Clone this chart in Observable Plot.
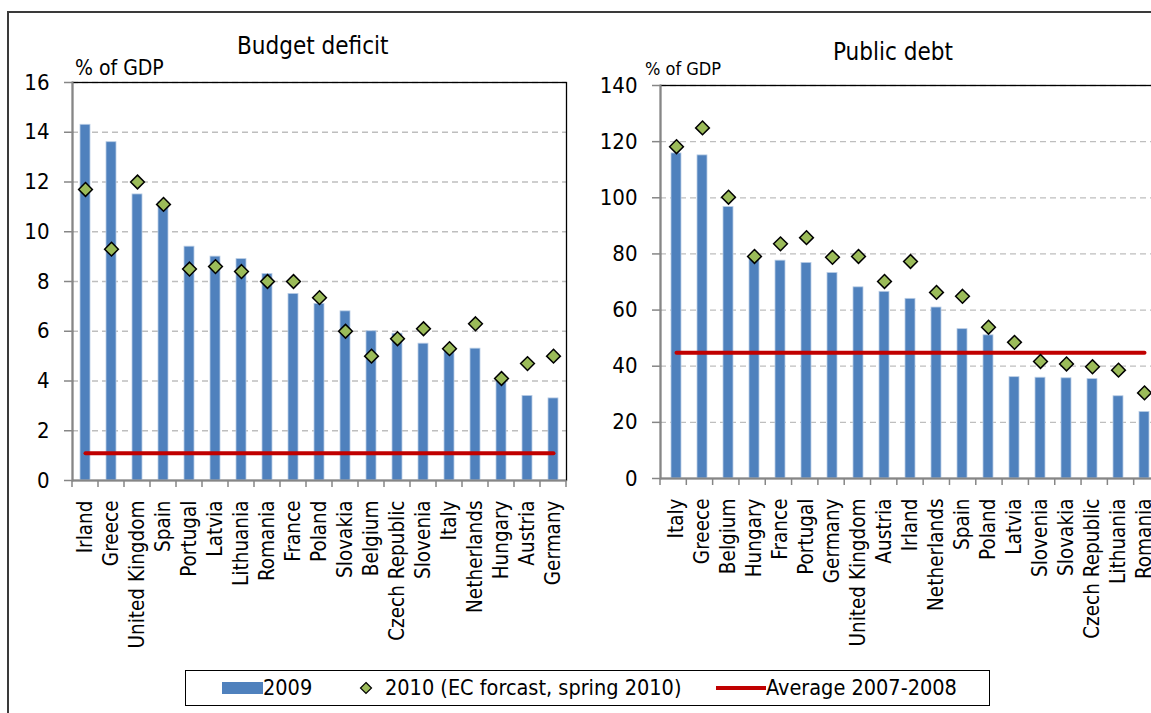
<!DOCTYPE html>
<html><head><meta charset="utf-8">
<script src="https://cdn.jsdelivr.net/npm/d3@7"></script>
<script src="https://cdn.jsdelivr.net/npm/@observablehq/plot@0.6"></script>
<style>
html,body{margin:0;padding:0;background:#fff;overflow:hidden}
#wrap{position:relative;width:1151px;height:713px;overflow:hidden;background:#fff;font-family:"DejaVu Sans Condensed","DejaVu Sans",sans-serif;color:#000}
.frame{position:absolute;left:7px;top:11px;width:1400px;height:900px;border-left:2px solid #3a3a3a;border-top:2px solid #3a3a3a}
.abs{position:absolute;white-space:nowrap;line-height:1}
.chart{position:absolute;top:0;width:600px;height:660px}
.chart svg{max-width:none !important}
#legend{position:absolute;left:185px;top:670px;width:805px;height:36px;border:1.5px solid #000;box-sizing:border-box;font-size:21.5px}
#legend .it{position:absolute;top:0;height:33px;display:flex;align-items:center}
</style>
</head><body>
<div id="wrap">
  <div class="frame"></div>
  <div class="abs" id="t1" style="left:237px;top:34px;font-size:24px">Budget deficit</div>
  <div class="abs" id="u1" style="left:75px;top:58px;font-size:21px">% of GDP</div>
  <div class="abs" id="t2" style="left:833px;top:40px;font-size:24px">Public debt</div>
  <div class="abs" id="u2" style="left:645px;top:60px;font-size:18px">% of GDP</div>
  <div class="chart" id="c1" style="left:0px"></div>
  <div class="chart" id="c2" style="left:580px"></div>
  <div id="legend"></div>
</div>
<script>
const FONT = '"DejaVu Sans Condensed","DejaVu Sans",sans-serif';

// ---- Budget deficit (% of GDP) ----
const deficitCountries = ["Irland","Greece","United Kingdom","Spain","Portugal","Latvia","Lithuania","Romania","France","Poland","Slovakia","Belgium","Czech Republic","Slovenia","Italy","Netherlands","Hungary","Austria","Germany"];
const deficit2009 = [14.3,13.6,11.5,11.2,9.4,9.0,8.9,8.3,7.5,7.1,6.8,6.0,5.9,5.5,5.3,5.3,4.0,3.4,3.3];
const deficit2010 = [11.7,9.3,12.0,11.1,8.5,8.6,8.4,8.0,8.0,7.35,6.0,5.0,5.7,6.1,5.3,6.3,4.1,4.7,5.0];
const deficitAvg = 1.1;
const deficitTicks = [0,2,4,6,8,10,12,14,16];

// ---- Public debt (% of GDP) ----
const debtCountries = ["Italy","Greece","Belgium","Hungary","France","Portugal","Germany","United Kingdom","Austria","Irland","Netherlands","Spain","Poland","Latvia","Slovenia","Slovakia","Czech Republic","Lithuania","Romania"];
const debt2009 = [115.8,115.1,96.7,78.3,77.6,76.8,73.2,68.1,66.5,64.0,60.9,53.2,51.0,36.1,35.9,35.7,35.4,29.3,23.7];
const debt2010 = [118.2,124.9,100.2,79.1,83.6,85.8,78.8,79.1,70.2,77.3,66.3,64.9,53.9,48.5,41.7,40.8,39.8,38.6,30.5];
const debtAvg = 44.8;
const debtTicks = [0,20,40,60,80,100,120,140];

const legendItems = ["2009","2010 (EC forcast, spring 2010)","Average 2007-2008"];

function panel(el, cats, v09, v10, avg, ticks, cfg) {
  const rows = cats.map((c, i) => ({c, v09: v09[i], v10: v10[i]}));
  const p = Plot.plot({
    width: cfg.width, height: cfg.height,
    marginLeft: cfg.mL, marginRight: cfg.mR, marginTop: cfg.mT, marginBottom: cfg.mB,
    style: {fontFamily: FONT, fontSize: "20px", color: "#000", background: "transparent", overflow: "visible", maxWidth: "none"},
    x: {domain: cats, paddingInner: 0.62, paddingOuter: 0.31, axis: null},
    y: {domain: [0, ticks[ticks.length - 1]], axis: null},
    marks: [
      Plot.ruleY(ticks.filter(t => t > 0), {stroke: "#BEBEBE", strokeDasharray: "6,4", strokeWidth: 1.3}),
      Plot.frame({stroke: "#000", strokeWidth: 1.3}),
      Plot.barY(rows, {x: "c", y: "v09", fill: "#4F81BD", stroke: "#B9CDE5", strokeWidth: 0.8}),
      Plot.lineY(cats, {x: d => d, y: () => avg, stroke: "#C00000", strokeWidth: 4}),
      Plot.dot(rows, {x: "c", y: "v10", symbol: "diamond2", r: 6.2, fill: "#9BBB59", stroke: "#000", strokeWidth: 1.5}),
      Plot.ruleY([0], {stroke: "#868686", strokeWidth: 2}),
      Plot.frame({anchor: "left", stroke: "#868686", strokeWidth: 2}),
      Plot.axisY({ticks, tickSize: 8, tickPadding: 15, fontSize: cfg.tickFont, stroke: "#868686", strokeWidth: 1.5, tickFormat: d => String(d)}),
      Plot.axisX({tickRotate: -90, tickSize: 0, tickPadding: 20, fontSize: cfg.labelFont, label: null})
    ]
  });
  // category boundary ticks from the band scale
  const sx = p.scale("x");
  const sy = p.scale("y");
  const [r0, r1] = sx.range;
  const step = (r1 - r0) / cats.length;
  const y0 = sy.apply(0);
  const svg = d3.select(p.tagName.toLowerCase() === "svg" ? p : p.querySelector("svg"));
  for (let i = 0; i <= cats.length; i++) {
    const x = r0 + i * step;
    svg.append("line").attr("x1", x).attr("x2", x).attr("y1", y0).attr("y2", y0 + 7)
      .attr("stroke", "#868686").attr("stroke-width", 1.5);
  }
  el.appendChild(p);
}

panel(document.getElementById("c1"), deficitCountries, deficit2009, deficit2010, deficitAvg, deficitTicks,
  {width: 600, height: 660, mL: 72, mR: 34, mT: 82, mB: 180, tickFont: 22, labelFont: 20.5});
panel(document.getElementById("c2"), debtCountries, debt2009, debt2010, debtAvg, debtTicks,
  {width: 600, height: 660, mL: 80, mR: 20, mT: 85, mB: 182, tickFont: 22, labelFont: 20.5});

// legend
const lg = d3.select("#legend");
const a = lg.append("div").attr("class", "it").style("left", "36px");
a.append("span").style("display", "inline-block").style("width", "41px").style("height", "12px").style("background", "#4F81BD");
a.append("span").text(legendItems[0]);
const b = lg.append("div").attr("class", "it").style("left", "173px");
b.append("svg").attr("width", 14).attr("height", 14).style("margin-right", "12px")
  .append("path").attr("d", "M7,1.5L12.5,7L7,12.5L1.5,7Z").attr("fill", "#9BBB59").attr("stroke", "#000").attr("stroke-width", 1.2);
b.append("span").text(legendItems[1]);
const c = lg.append("div").attr("class", "it").style("left", "530px");
c.append("span").style("display", "inline-block").style("width", "50px").style("height", "4px").style("background", "#C00000");
c.append("span").text(legendItems[2]);
</script>
</body></html>
